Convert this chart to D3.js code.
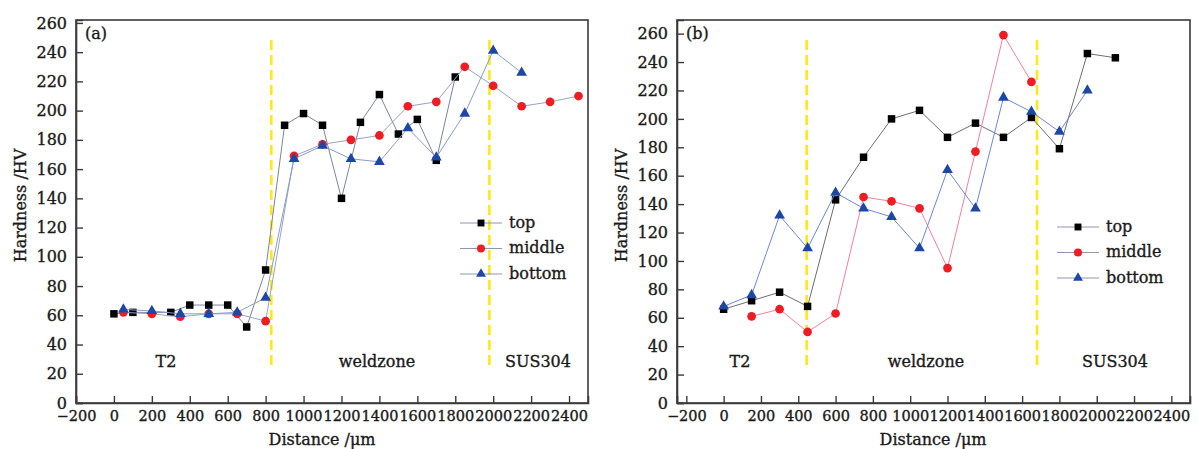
<!DOCTYPE html>
<html>
<head>
<meta charset="utf-8">
<script src="https://cdn.jsdelivr.net/npm/d3@7"></script>
<style>
  body { margin: 0; background: #fff; }
  svg { display: block; font-family: "DejaVu Serif", serif; }
  svg text { fill: #1a1a1a; stroke: #1a1a1a; stroke-width: 0.35px; }
</style>
</head>
<body>
<svg id="chart" width="1198" height="449"></svg>
<script>
// ---- data ----
// panel (a)
const aTopX = [0, 100, 300, 400, 500, 600, 700, 800, 900, 1000, 1100, 1200, 1300, 1400, 1500, 1600, 1700, 1800];
const aTopY = [61, 62, 62, 67, 67, 67, 52, 91, 190, 198, 190, 140, 192, 211, 184, 194, 166, 223];
const aMidX = [50, 200, 350, 500, 650, 800, 950, 1100, 1250, 1400, 1550, 1700, 1850, 2000, 2150, 2300, 2450];
const aMidY = [62, 61, 59, 61, 61, 56, 169, 177, 180, 183, 203, 206, 230, 217, 203, 206, 210];
const aBotX = [50, 200, 350, 500, 650, 800, 950, 1100, 1250, 1400, 1550, 1700, 1850, 2000, 2150];
const aBotY = [64, 63, 61, 61, 62, 72, 167, 176, 167, 165, 188, 168, 198, 241, 226];
const aBounds = [830, 1980];

// panel (b)
const bTopX = [0, 150, 300, 450, 600, 750, 900, 1050, 1200, 1350, 1500, 1650, 1800, 1950, 2100];
const bTopY = [66, 72, 78, 68, 143, 173, 200, 206, 187, 197, 187, 201, 179, 246, 243];
const bMidX = [150, 300, 450, 600, 750, 900, 1050, 1200, 1350, 1500, 1650];
const bMidY = [61, 66, 50, 63, 145, 142, 137, 95, 177, 259, 226];
const bBotX = [0, 150, 300, 450, 600, 750, 900, 1050, 1200, 1350, 1500, 1650, 1800, 1950];
const bBotY = [68, 76, 132, 109, 148, 137, 131, 109, 164, 137, 215, 205, 191, 220];
const bBounds = [445, 1680];

const seriesNames = ["top", "middle", "bottom"];
const zoneNames = ["T2", "weldzone", "SUS304"];
const xTicks = [-200, 0, 200, 400, 600, 800, 1000, 1200, 1400, 1600, 1800, 2000, 2200, 2400];
const yTicks = [0, 20, 40, 60, 80, 100, 120, 140, 160, 180, 200, 220, 240, 260];

const svg = d3.select("#chart");

function zip(xs, ys) { return xs.map((x, i) => ({x: x, y: ys[i]})); }

function drawPanel(cfg) {
    const g = svg.append("g");
    const x = d3.scaleLinear().domain(cfg.xDomain).range([cfg.left, cfg.right]);
    const y = d3.scaleLinear().domain(cfg.yDomain).range([cfg.bottom, cfg.top]);

    // frame
    g.append("rect")
        .attr("x", cfg.left).attr("y", cfg.top)
        .attr("width", cfg.right - cfg.left).attr("height", cfg.bottom - cfg.top)
        .attr("fill", "none").attr("stroke", "#3a3a3a").attr("stroke-width", 1.6);

    // axes, ticks inward
    const xAxis = g.append("g")
        .attr("transform", `translate(0,${cfg.bottom})`)
        .call(d3.axisBottom(x).tickValues(xTicks).tickSize(-7).tickPadding(8));
    xAxis.selectAll("text").style("font-size", "14.5px")
        .text(d => d < 0 ? "\u2212" + Math.abs(d) : d);
    const yAxis = g.append("g")
        .attr("transform", `translate(${cfg.left},0)`)
        .call(d3.axisLeft(y).tickValues(yTicks).tickSize(-7).tickPadding(9));
    yAxis.selectAll("text").style("font-size", "16px");
    [xAxis, yAxis].forEach(a => {
        a.select(".domain").attr("stroke", "#3a3a3a").attr("stroke-width", 1.6);
        a.selectAll(".tick line").attr("stroke", "#3a3a3a").attr("stroke-width", 1.4);
        a.attr("font-family", null);
    });

    // axis titles
    g.append("text")
        .attr("transform", `translate(${cfg.left - 56},${(cfg.top + cfg.bottom) / 2 - 6}) rotate(-90)`)
        .attr("text-anchor", "middle").attr("dominant-baseline", "central")
        .style("font-size", "16px")
        .text("Hardness /HV");
    g.append("text")
        .attr("x", cfg.xTitle).attr("y", 445)
        .attr("text-anchor", "middle")
        .style("font-size", "16px")
        .text("Distance /\u03bcm");

    // panel tag
    g.append("text")
        .attr("x", cfg.left + 9).attr("y", cfg.top + 19)
        .style("font-size", "16px")
        .text(cfg.tag);

    // zone boundaries
    cfg.bounds.forEach(b => {
        g.append("line")
            .attr("x1", x(b)).attr("x2", x(b))
            .attr("y1", 40).attr("y2", 370)
            .attr("stroke", "#ffe81a").attr("stroke-width", 2.6)
            .attr("stroke-dasharray", "10,5");
    });

    // zone labels
    zoneNames.forEach((z, i) => {
        g.append("text")
            .attr("x", cfg.zoneX[i]).attr("y", 367)
            .attr("text-anchor", "middle")
            .style("font-size", "16px")
            .text(z);
    });

    // series
    const line = d3.line().x(d => x(d.x)).y(d => y(d.y));
    cfg.series.forEach(s => {
        g.append("path")
            .datum(s.data)
            .attr("d", line)
            .attr("fill", "none")
            .attr("stroke", s.lineColor)
            .attr("stroke-width", 1);
        g.selectAll(null)
            .data(s.data)
            .enter()
            .append("path")
            .attr("transform", d => `translate(${x(d.x)},${y(d.y)})`)
            .attr("d", d3.symbol().type(s.symbol).size(s.size))
            .attr("fill", s.color);
    });

    // legend
    cfg.series.forEach((s, i) => {
        const ly = cfg.legY + i * 25.5;
        g.append("line")
            .attr("x1", cfg.legX).attr("x2", cfg.legX + 42)
            .attr("y1", ly).attr("y2", ly)
            .attr("stroke", "#8c97b0").attr("stroke-width", 1);
        g.append("path")
            .attr("transform", `translate(${cfg.legX + 21},${ly})`)
            .attr("d", d3.symbol().type(s.symbol).size(s.size * 0.85))
            .attr("fill", s.color);
        g.append("text")
            .attr("x", cfg.legX + 49).attr("y", ly - 1)
            .attr("dominant-baseline", "central")
            .style("font-size", "16px")
            .text(seriesNames[i]);
    });
}

const squareS = {symbol: d3.symbolSquare, size: 56, color: "#000"};
const circleS = {symbol: d3.symbolCircle, size: 60, color: "#ee1d24"};
const triS = {symbol: d3.symbolTriangle, size: 50, color: "#1c47a6"};

drawPanel({
    tag: "(a)",
    left: 76, right: 588, top: 20, bottom: 403,
    xDomain: [-200, 2500], yDomain: [0, 262],
    xTitle: 322,
    bounds: aBounds,
    zoneX: [166, 377, 538],
    legX: 460, legY: 223,
    series: [
        Object.assign({data: zip(aTopX, aTopY), lineColor: "#7c8497"}, squareS),
        Object.assign({data: zip(aMidX, aMidY), lineColor: "#98a3bd"}, circleS),
        Object.assign({data: zip(aBotX, aBotY), lineColor: "#8a9bc8"}, triS)
    ]
});

drawPanel({
    tag: "(b)",
    left: 677, right: 1190, top: 20, bottom: 403,
    xDomain: [-250, 2500], yDomain: [0, 269.6],
    xTitle: 933,
    bounds: bBounds,
    zoneX: [740, 926, 1115],
    legX: 1057, legY: 227,
    series: [
        Object.assign({data: zip(bTopX, bTopY), lineColor: "#6e6e6e"}, squareS),
        Object.assign({data: zip(bMidX, bMidY), lineColor: "#f3819c"}, circleS),
        Object.assign({data: zip(bBotX, bBotY), lineColor: "#6f86d6"}, triS)
    ]
});
</script>
</body>
</html>
